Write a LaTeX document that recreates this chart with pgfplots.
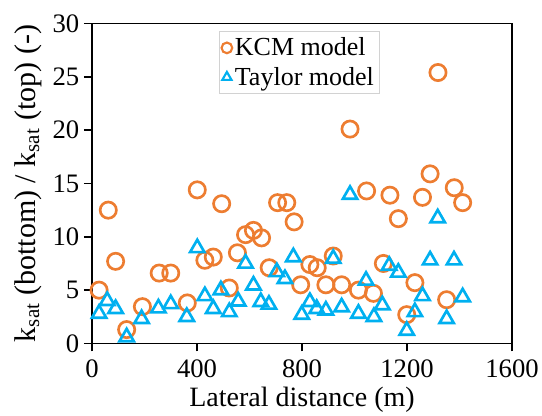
\documentclass[border=0pt]{standalone}
\usepackage{fontspec}
\setmainfont{Liberation Serif}
\usepackage{pgfplots}
\pgfplotsset{compat=1.18}
\definecolor{kcm}{RGB}{237,125,49}
\definecolor{tay}{RGB}{0,176,240}
\begin{document}
\begin{tikzpicture}
\useasboundingbox (-69pt,-54.4pt) rectangle (337.5pt,257.6pt);
\begin{axis}[
  at={(0,0)}, anchor=south west,
  scale only axis, width=315pt, height=240pt,
  xmin=0, xmax=1600, ymin=0, ymax=30,
  xtick={0,400,800,1200,1600}, ytick={0,5,10,15,20,25,30},
  tick pos=left, tick align=outside,
  major tick length=6pt,
  every tick/.style={line width=1.2pt, black},
  axis line style={line width=1.4pt},
  /pgf/number format/assume math mode=true,
  /pgf/number format/1000 sep={},
  ticklabel style={font=\fontsize{20}{22}\selectfont},
  xticklabel style={yshift=-3pt},
  xlabel style={font=\fontsize{21}{24}\selectfont},
  ylabel style={font=\fontsize{22.5}{25}\selectfont, yshift=1.5pt},
  xlabel={Lateral distance (m)},
  ylabel={k\textsubscript{sat} (bottom) / k\textsubscript{sat} (top) (-)},
  legend style={at={(0.493,0.975)}, anchor=north, draw=gray!35, line width=0.6pt,
    font=\fontsize{19.5}{22}\selectfont, inner xsep=2pt, inner ysep=2.5pt,
    row sep=3pt, /tikz/every even column/.append style={column sep=1pt}},
  legend cell align=left,
]
\addplot[only marks, mark=o, mark size=6.1pt, line width=2pt, color=kcm,
  legend image post style={mark size=4pt, line width=1.6pt}] coordinates {
(27,5.0) (62,12.5) (90,7.7) (132,1.3) (192,3.45) (256,6.6) (300,6.6) (363,3.8)
(401,14.4) (430,7.8) (462,8.1) (494,13.1) (523,5.2) (554,8.5) (585,10.2) (615,10.6)
(646,9.9) (675,7.1) (707,13.2) (742,13.2) (770,11.4) (795,5.5) (830,7.4) (858,7.1)
(891,5.5) (919,8.2) (951,5.5) (983,20.1) (1015,5.0) (1046,14.3) (1072,4.7) (1110,7.5)
(1135,13.9) (1167,11.7) (1199,2.7) (1230,5.7) (1259,13.7) (1288,15.9) (1318,25.4)
(1351,4.1) (1380,14.6) (1412,13.2)
};
\addlegendentry{KCM model}
\addplot[only marks, mark=triangle, mark size=6.2pt, line width=2pt, color=tay,
  legend image post style={mark size=4pt, line width=1.6pt}] coordinates {
(27,2.8) (58,4.0) (90,3.25) (132,0.6) (189,2.3) (253,3.3) (300,3.7) (361,2.5)
(401,8.95) (430,4.45) (462,3.25) (491,5.0) (523,2.95) (557,3.95) (585,7.5) (615,5.45)
(643,3.9) (674,3.65) (704,6.7) (735,6.05) (767,8.1) (799,2.7) (830,3.9) (856,3.25)
(891,3.1) (919,7.95) (951,3.4) (983,13.95) (1015,2.8) (1044,5.9) (1074,2.5) (1106,3.6)
(1132,7.3) (1167,6.65) (1199,1.2) (1230,2.95) (1259,4.45) (1288,7.8) (1317,11.75)
(1351,2.3) (1379,7.8) (1412,4.35)
};
\addlegendentry{Taylor model}
\end{axis}
\end{tikzpicture}
\end{document}
